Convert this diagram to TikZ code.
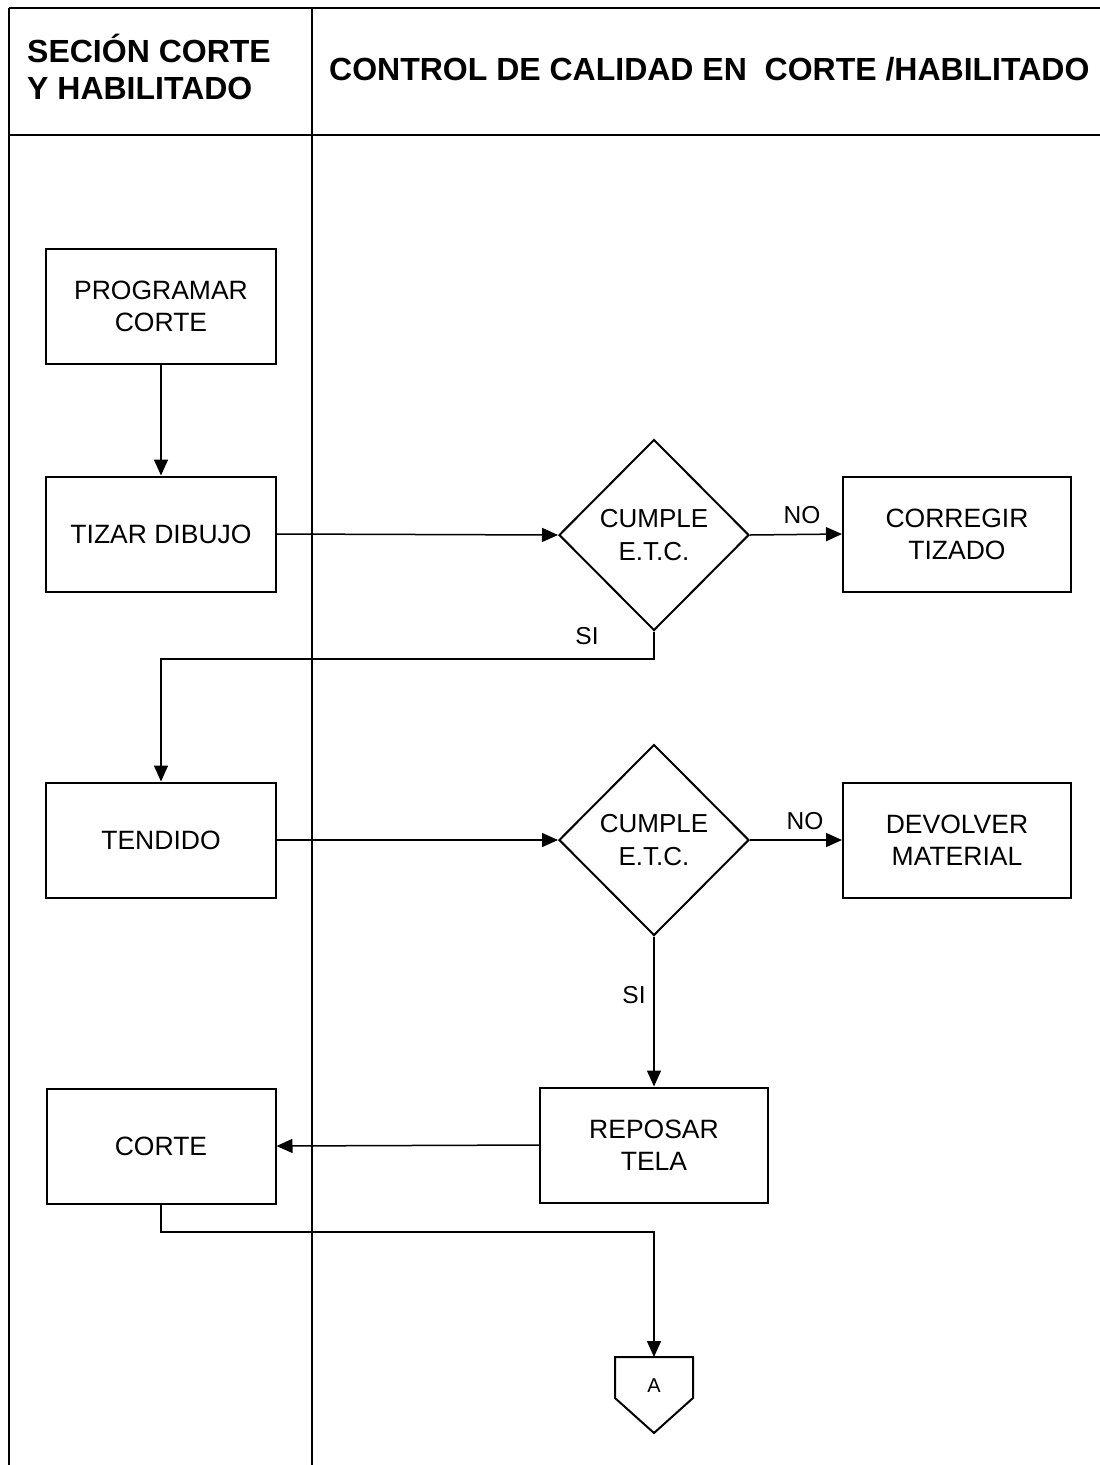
\documentclass[tikz,border=0pt]{standalone}
\usepackage{fontspec}
\setmainfont{Liberation Sans}
\usetikzlibrary{shapes.geometric,arrows.meta}
\begin{document}
\begin{tikzpicture}[x=1pt,y=-1pt,
  frame/.style={line width=1.3pt},
  procbox/.style={draw,line width=2pt,minimum width=230pt,minimum height=115pt,inner sep=0pt,align=center,font=\fontsize{26.5}{32}\selectfont},
  decision/.style={draw,diamond,line width=2pt,minimum width=190pt,minimum height=191pt,inner sep=0pt,align=center,font=\fontsize{26}{33}\selectfont},
  conn/.style={line width=1.5pt},
  arr/.style={conn,-{Triangle[length=16pt,width=14pt]}},
  lbl/.style={font=\fontsize{24.5}{30}\selectfont,inner sep=0pt},
  hdr/.style={font=\fontsize{32}{37}\selectfont\bfseries,inner sep=0pt}
]
\useasboundingbox (0,0) rectangle (1100,1465);
% frame
\draw[frame] (9,8) -- (1100,8);
\draw[frame] (9,135) -- (1100,135);
\draw[frame] (9,8) -- (9,1465);
\draw[frame] (312,8) -- (312,1465);
\node[hdr,anchor=west,align=left] (h1) at (27,67) {SECIÓN CORTE\\Y HABILITADO};
\node[hdr,anchor=west] (h2) at (329,69) {CONTROL DE CALIDAD EN\ \ CORTE /HABILITADO};
% nodes
\node[procbox] (prog) at (161,306) {PROGRAMAR\\CORTE};
\node[procbox] (tizar) at (161,534) {TIZAR DIBUJO};
\node[decision] (d1) at (654,535) {CUMPLE\\E.T.C.};
\node[procbox,minimum width=228pt] (corr) at (957,534) {CORREGIR\\TIZADO};
\node[procbox] (tend) at (161,840) {TENDIDO};
\node[decision] (d2) at (654,840) {CUMPLE\\E.T.C.};
\node[procbox,minimum width=228pt] (dev) at (957,840) {DEVOLVER\\MATERIAL};
\node[procbox,minimum width=228pt] (rep) at (654,1145) {REPOSAR\\TELA};
\node[procbox,minimum width=229pt] (corte) at (161,1146) {CORTE};
% off-page connector
\coordinate (Atop) at (654,1357);
\draw[line width=2pt] (615,1357) -- (693,1357) -- (693,1398) -- (654,1433) -- (615,1398) -- cycle;
\node[font=\fontsize{20}{24}\selectfont,inner sep=0pt] (A) at (654,1386) {A};
% connectors
\draw[arr] (prog.south) -- (tizar.north);
\draw[arr] (tizar.east) -- (d1.west);
\draw[arr] (d1.east) -- (corr.west);
\draw[arr] (d1.south) -- (654,659) -| (tend.north);
\draw[arr] (tend.east) -- (d2.west);
\draw[arr] (d2.east) -- (dev.west);
\draw[arr] (d2.south) -- (rep.north);
\draw[arr] (rep.west) -- (corte.east);
\draw[arr] (corte.south) -- (161,1232) -| (Atop);
% labels
\node[lbl] (no1) at (802,515) {NO};
\node[lbl] (si1) at (587,636) {SI};
\node[lbl] (no2) at (805,821) {NO};
\node[lbl] (si2) at (634,995) {SI};
\end{tikzpicture}
\end{document}
